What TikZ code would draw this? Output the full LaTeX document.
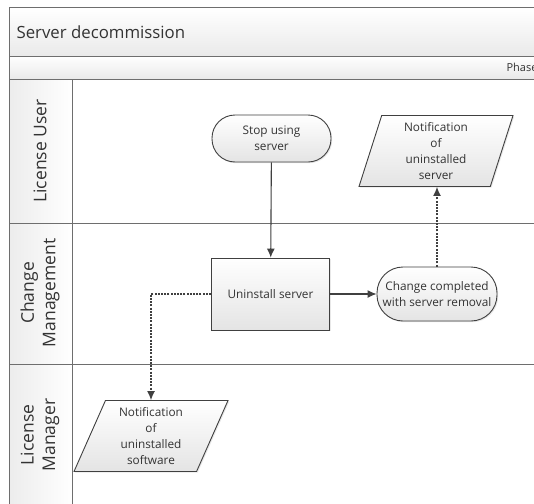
\documentclass[tikz,border=0pt]{standalone}
\usepackage{fontspec}
\setmainfont{Open Sans}
\usetikzlibrary{shapes.geometric,arrows.meta,shadows}
\definecolor{frameline}{HTML}{6E6E6E}
\definecolor{flowline}{HTML}{404040}
\definecolor{inkgray}{HTML}{333333}
\definecolor{shadegray}{HTML}{E4E4E4}
\tikzset{
  band/.style={top color=white, bottom color=shadegray!80, draw=frameline, line width=1pt},
  lanehead/.style={left color=shadegray!70, right color=white, draw=frameline, line width=1pt},
  lanelabel/.style={rotate=90, text=inkgray, font=\fontsize{17.5}{21.5}\selectfont, align=center},
  shape base/.style={draw=flowline, line width=0.9pt, top color=white, bottom color=shadegray,
    text=inkgray, font=\fontsize{11.8}{16}\selectfont, align=center, inner sep=1pt,
    drop shadow={shadow xshift=1.2pt, shadow yshift=-1.2pt, opacity=0.18}},
  terminal/.style={shape base, rectangle, rounded corners=23pt, minimum width=119pt, minimum height=47pt},
  process/.style={shape base, rectangle, minimum width=118pt, minimum height=72pt},
  datashape/.style={shape base, trapezium, trapezium stretches body=true,
    trapezium left angle=#1, trapezium right angle=180-#1,
    minimum width=154pt, minimum height=71pt},
  flow/.style={draw=flowline, line width=1.1pt, -{Latex[length=9pt,width=8pt]}},
  notice/.style={flow, dash pattern=on 2pt off 1.2pt}
}
\begin{document}
\begin{tikzpicture}[x=1pt,y=-1pt]
\useasboundingbox (0,0) rectangle (534,503);
\fill[white] (0,0) rectangle (534,503);
\clip (0,0) rectangle (534,503);

% pool header and phase band
\path[band] (9,8) rectangle (560,56);
\path[band] (9,56) rectangle (560,79);
\node[anchor=west, text=inkgray, font=\fontsize{16.8}{20}\selectfont] (title) at (13,32) {Server decommission};
\node[anchor=west, text=inkgray, font=\fontsize{11}{13}\selectfont] (phase) at (503,67.5) {Phase};

% swimlanes
\draw[frameline, line width=1pt] (9,79) rectangle (560,223);
\draw[frameline, line width=1pt] (9,223) rectangle (560,364);
\draw[frameline, line width=1pt] (9,364) rectangle (560,520);
\path[lanehead] (9,79) rectangle (72,223);
\path[lanehead] (9,223) rectangle (72,364);
\path[lanehead] (9,364) rectangle (72,520);
\node[lanelabel] (laneA) at (40,151) {License User};
\node[lanelabel] (laneB) at (40,293) {Change\\Management};
\node[lanelabel] (laneC) at (40,435) {License\\Manager};

% flow shapes
\node[terminal] (stop) at (271.5,138.5) {Stop using\\server};
\node[process] (uninstall) at (270.5,294) {Uninstall server};
\node[terminal, minimum width=120pt, minimum height=54pt, rounded corners=26pt] (done) at (437,294) {Change completed\\with server removal};
\node[datashape=69] (notifyserver) at (436,151) {Notification\\of\\uninstalled\\server};
\node[datashape=62] (notifysoft) at (151,436) {Notification\\of\\uninstalled\\software};

% connectors
\draw[flow] (stop) -- (uninstall);
\draw[flow] (uninstall) -- (done);
\draw[notice] (done) -- (notifyserver.south -| done.north);
\draw[notice] (uninstall.west) -| (notifysoft.north);
\end{tikzpicture}
\end{document}
